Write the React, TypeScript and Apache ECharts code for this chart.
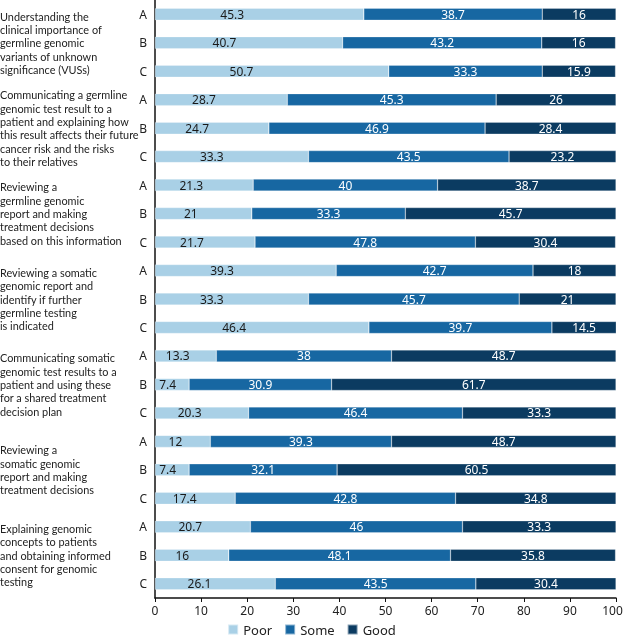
import React, { useEffect, useRef } from "react";
import * as echarts from "echarts";

const groups = [
  "Understanding the\nclinical importance of\ngermline genomic\nvariants of unknown\nsignificance (VUSs)",
  "Communicating a germline\ngenomic test result to a\npatient and explaining how\nthis result affects their future\ncancer risk and the risks\nto their relatives",
  "Reviewing a\ngermline genomic\nreport and making\ntreatment decisions\nbased on this information",
  "Reviewing a somatic\ngenomic report and\nidentify if further\ngermline testing\nis indicated",
  "Communicating somatic\ngenomic test results to a\npatient and using these\nfor a shared treatment\ndecision plan",
  "Reviewing a\nsomatic genomic\nreport and making\ntreatment decisions",
  "Explaining genomic\nconcepts to patients\nand obtaining informed\nconsent for genomic\ntesting",
];
const subgroups = ["A", "B", "C"];
const categories = groups.flatMap((_, gi) => subgroups.map((s) => `${gi + 1}${s}`));

const poor = [45.3, 40.7, 50.7, 28.7, 24.7, 33.3, 21.3, 21, 21.7, 39.3, 33.3, 46.4, 13.3, 7.4, 20.3, 12, 7.4, 17.4, 20.7, 16, 26.1];
// bar lengths as drawn; the 6C "Some" bar is drawn to ~47.8 while labelled 42.8
const some = [38.7, 43.2, 33.3, 45.3, 46.9, 43.5, 40, 33.3, 47.8, 42.7, 45.7, 39.7, 38, 30.9, 46.4, 39.3, 32.1, 47.8, 46, 48.1, 43.5];
const someLabels = ["38.7", "43.2", "33.3", "45.3", "46.9", "43.5", "40", "33.3", "47.8", "42.7", "45.7", "39.7", "38", "30.9", "46.4", "39.3", "32.1", "42.8", "46", "48.1", "43.5"];
const good = [16, 16, 15.9, 26, 28.4, 23.2, 38.7, 45.7, 30.4, 18, 21, 14.5, 48.7, 61.7, 33.3, 48.7, 60.5, 34.8, 33.3, 35.8, 30.4];

const FONT = "Noto Sans";
const GFONT = "Lato";

export default function App() {
  const ref = useRef<HTMLDivElement>(null);
  useEffect(() => {
    if (!ref.current) return;
    const chart = echarts.init(ref.current, null, { renderer: "svg" });
    const mk = (name: string, data: any[], color: string, textColor: string, pos: any) => ({
      name,
      type: "bar",
      stack: "total",
      barWidth: 12,
      data,
      itemStyle: { color, borderColor: "rgba(255,255,255,0.5)", borderWidth: 0.5 },
      label: {
        show: true,
        position: pos,
        align: "center",
        verticalAlign: "middle",
        color: textColor,
        fontFamily: FONT,
        fontSize: 12,
      },
    });
    chart.setOption({
      animation: false,
      textStyle: { fontFamily: FONT },
      grid: { left: 155, right: 7, top: 0, bottom: 41, containLabel: false, outerBoundsMode: "none" },
      legend: {
        top: 618,
        left: "center",
        itemWidth: 10,
        itemHeight: 10,
        itemGap: 12,
        icon: "rect",
        textStyle: { fontFamily: FONT, fontSize: 13, color: "#222" },
        data: ["Poor", "Some", "Good"],
      },
      xAxis: {
        type: "value",
        min: 0,
        max: 100,
        interval: 10,
        axisLine: { show: true, lineStyle: { color: "#111", width: 1.5 } },
        axisTick: { show: true, length: 4, lineStyle: { color: "#111" } },
        splitLine: { show: false },
        axisLabel: {
          color: "#222",
          fontSize: 12,
          fontFamily: FONT,
          margin: 6,
          formatter: (v: number) => (v === 100 ? "{r|100}" : String(v)),
          rich: { r: { padding: [0, 7, 0, 0], fontSize: 12, fontFamily: FONT, color: "#222" } },
        },
      },
      yAxis: {
        type: "category",
        inverse: true,
        data: categories,
        axisLine: { show: true, lineStyle: { color: "#111", width: 1.5 } },
        axisTick: { show: false },
        axisLabel: {
          color: "#222",
          fontSize: 12,
          fontFamily: FONT,
          margin: 8,
          formatter: (v: string) => v.slice(-1),
        },
      },
      series: [
        mk("Poor", poor, "#a9d0e6", "#1a1a1a", ["37%", "50%"]),
        mk(
          "Some",
          some.map((v, i) => ({ value: v, label: { formatter: someLabels[i] } })),
          "#1767a2",
          "#ffffff",
          "inside"
        ),
        mk("Good", good, "#0b3b61", "#ffffff", "inside"),
      ],
    });
    chart.setOption({
      graphic: groups.map((g, gi) => {
        const y = chart.convertToPixel({ yAxisIndex: 0 }, `${gi + 1}B`) as number;
        return {
          type: "text",
          x: 0,
          y,
          style: {
            text: g,
            font: `10.9px "${GFONT}"`,
            lineHeight: 13.3,
            fill: "#222",
            verticalAlign: "middle",
            align: "left",
          },
        };
      }),
    });
    return () => chart.dispose();
  }, []);
  return <div ref={ref} style={{ width: 623, height: 639, position: "fixed", left: 0, top: 0 }} />;
}
